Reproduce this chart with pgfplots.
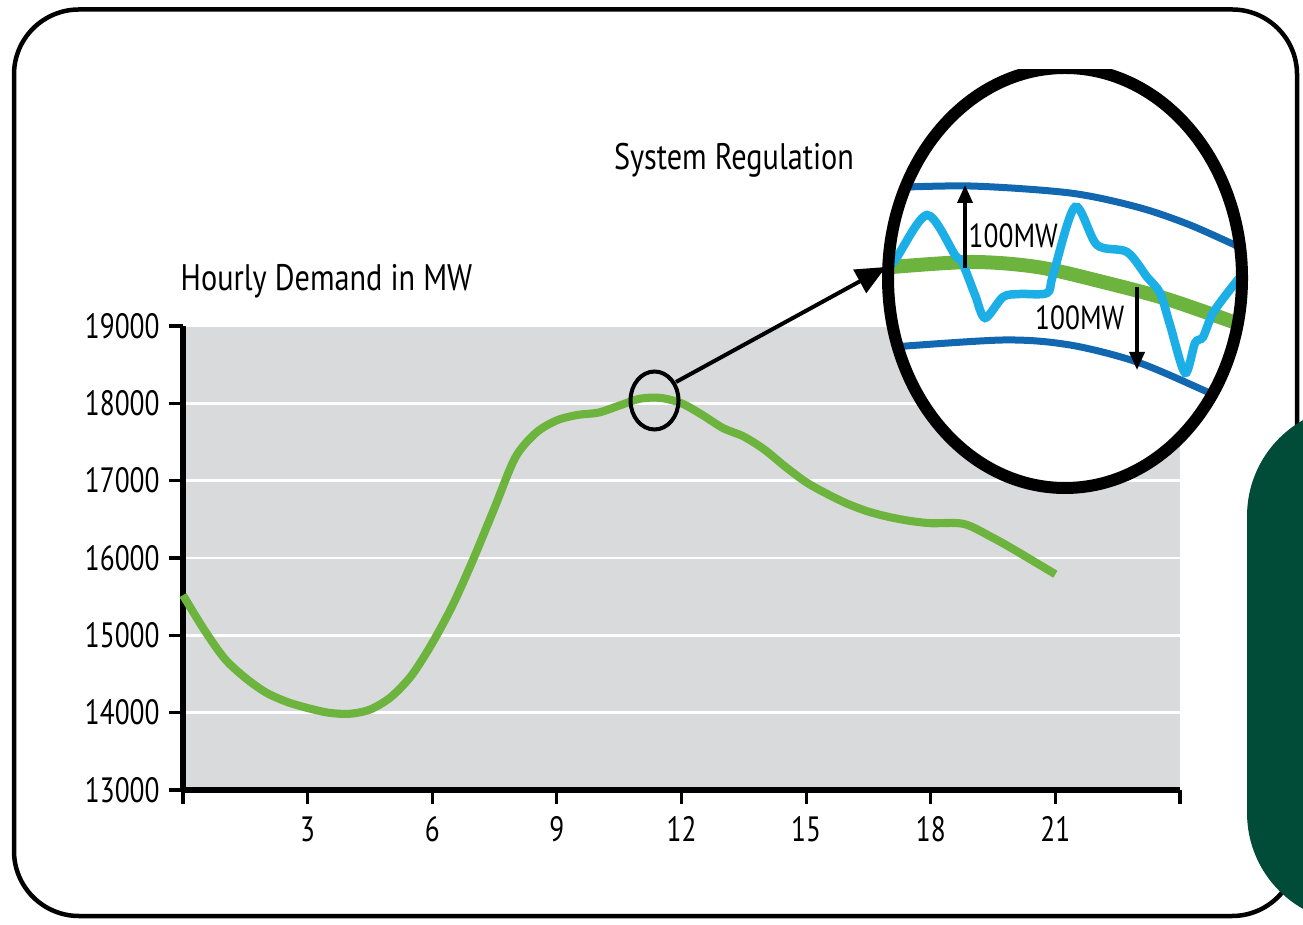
\documentclass[border=0pt]{standalone}
\usepackage{fontspec}
\setmainfont{PT Sans}[FakeStretch=0.82]
\newfontfamily\tickfont{PT Sans}[FakeStretch=0.78]
\usepackage{pgfplots}
\pgfplotsset{compat=1.18}
\usetikzlibrary{arrows.meta}

\definecolor{plotgray}{HTML}{D8DADC}
\definecolor{demandgreen}{HTML}{6CB43E}
\definecolor{bandblue}{HTML}{1268B0}
\definecolor{regblue}{HTML}{1CAEE6}
\definecolor{panelgreen}{HTML}{004C38}

% pixel overlay: 1px = 0.1mm, y counted from the top
\pgfplotsset{pixaxis/.style={at={(0,0)},anchor=south west,scale only axis,
    width=130.3mm,height=92.4mm,xmin=0,xmax=1303,ymin=0,ymax=924,
    y dir=reverse,hide axis,clip=false}}

\begin{document}
\begin{tikzpicture}
\useasboundingbox (0,0) rectangle (130.3mm,92.4mm);

% outer frame
\draw[line width=0.45mm,rounded corners=6.5mm] (1.4mm,0.8mm) rectangle (129.7mm,91.45mm);

\begin{axis}[at={(18.3mm,13.4mm)},anchor=south west,scale only axis,
    width=99.7mm,height=46.4mm,
    xmin=0,xmax=24,ymin=13000,ymax=19000,
    axis x line=bottom,axis y line=left,
    axis line style={-,line width=1.45pt,black},
    axis background/.style={fill=plotgray},
    xtick={0,3,...,24},xticklabels={,3,6,9,12,15,18,21,},
    ytick={13000,14000,...,19000},
    scaled y ticks=false,
    yticklabel style={/pgf/number format/1000 sep={},xshift=0.3mm},
    /pgf/number format/assume math mode=true,
    ymajorgrids,grid style={white,line width=0.7pt},
    tick align=outside,major tick length=1.4mm,
    tick style={black,line width=0.9pt},
    ticklabel style={font=\tickfont\fontsize{10}{10}\selectfont},
    clip=false]
\addplot[smooth,line width=2.3pt,demandgreen] coordinates {
 (0,15520)(0.5,15080)(1,14700)(1.5,14450)(2,14260)(2.5,14140)(3,14060)
 (3.5,14000)(4,13985)(4.5,14040)(5,14200)(5.5,14480)(6,14900)(6.5,15400)
 (7,16000)(7.5,16650)(8,17300)(8.5,17620)(9,17780)(9.5,17850)(10,17880)
 (10.5,17970)(11,18060)(11.5,18070)(12,18000)(12.5,17850)(13,17680)
 (13.5,17570)(14,17400)(14.5,17180)(15,16980)(15.5,16830)(16,16700)
 (16.5,16600)(17,16530)(17.5,16480)(18,16450)(18.8,16440)(19.5,16260)
 (20,16110)(20.5,15950)(21,15790)};
\end{axis}

% magnifier contents
\begin{scope}
\clip (0,0) rectangle (130.3mm,85.4mm);
\clip (106.5mm,64.6mm) ellipse [x radius=17.7mm,y radius=21mm];
\fill[white] (106.5mm,64.6mm) ellipse [x radius=17.7mm,y radius=21mm];
\begin{axis}[pixaxis]
\addplot[smooth,line width=0.7mm,bandblue] coordinates {
 (880,188)(970,186)(1070,193)(1137,207)(1190,225)(1250,252)};
\addplot[smooth,line width=0.7mm,bandblue] coordinates {
 (880,348)(1003,340)(1070,345)(1137,362)(1203,390)(1250,412)};
\addplot[smooth,line width=1.4mm,demandgreen] coordinates {
 (880,268)(970,262)(1037,267)(1103,282)(1170,300)(1250,328)};
\addplot[smooth,tension=0.5,line width=0.85mm,regblue] coordinates {
 (880,275)(895,260)(927,215)(955,255)(962,262)(975,295)(985,318)(1003,297)
 (1020,294)(1047,293)(1053,275)(1075,207)(1097,245)(1127,252)(1147,277)
 (1160,293)(1170,325)(1185,373)(1195,343)(1203,337)(1213,313)(1232,287)(1250,265)};
\draw[line width=0.35mm,-{Triangle[length=1.8mm,width=1.5mm]}] (axis cs:965,268) -- (axis cs:965,185);
\draw[line width=0.35mm,-{Triangle[length=1.8mm,width=1.5mm]}] (axis cs:1137,287) -- (axis cs:1137,370);
\node[anchor=west,inner sep=0pt,font=\fontsize{9.5}{10}\selectfont] at (axis cs:968,236) {100MW};
\node[anchor=east,inner sep=0pt,font=\fontsize{9.5}{10}\selectfont] at (axis cs:1125,318) {100MW};
\end{axis}
\end{scope}

% magnifier rim
\begin{scope}
\clip (0,0) rectangle (130.3mm,85.4mm);
\draw[line width=1.2mm] (106.5mm,64.6mm) ellipse [x radius=17.7mm,y radius=21mm];
\end{scope}

% small circle and pointer
\draw[line width=0.4mm] (65.45mm,52.35mm) ellipse [x radius=2.4mm,y radius=2.9mm];
\draw[line width=0.4mm,-{Triangle[length=3mm,width=2.6mm]}] (67.6mm,54.2mm) -- (88.6mm,65.7mm);

% dark green panel
\fill[panelgreen,rounded corners=11mm] (124.7mm,0.1mm) rectangle (160mm,51.8mm);

% titles
\node[inner sep=0pt,font=\fontsize{10.5}{12}\selectfont] at (73.4mm,76.4mm) {System Regulation};
\node[anchor=west,inner sep=0pt,font=\fontsize{10.5}{12}\selectfont] at (18mm,64.3mm) {Hourly Demand in MW};
\end{tikzpicture}
\end{document}
